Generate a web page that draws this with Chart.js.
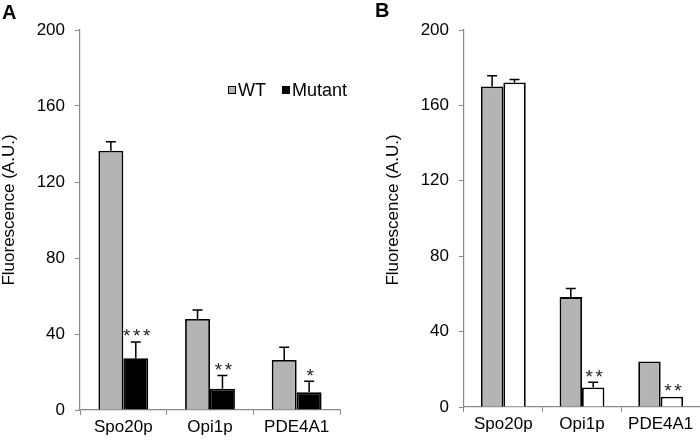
<!DOCTYPE html>
<html>
<head>
<meta charset="utf-8">
<script src="https://cdn.jsdelivr.net/npm/chart.js@4"></script>
<style>
  body { margin: 0; background: #fff; }
  .panel { position: absolute; top: 0; width: 350px; height: 442px; }
</style>
</head>
<body>
<div class="panel" style="left:0"><canvas id="chartA" width="350" height="442"></canvas></div>
<div class="panel" style="left:350px"><canvas id="chartB" width="350" height="442"></canvas></div>
<script>
// Values
const categories = ['Spo20p', 'Opi1p', 'PDE4A1'];
const yTicks = [0, 40, 80, 120, 160, 200];

const wtValues = [136.5, 47.9, 26.3];
const wtErrors = [4.7, 4.7, 6.7];
const mutantValues = [27.2, 11.2, 9.3];
const mutantErrors = [8.6, 6.9, 5.8];
const mutantStars = ['***', '**', '*'];

const dopcValues = [170, 58.3, 24.2];
const dopcErrors = [5.7, 4.6, 0];
const popcValues = [172.2, 10.4, 5.5];
const popcErrors = [1.6, 2.7, 0];
const popcStars = ['', '**', '**'];

const FONT = "'Liberation Sans', Arial, sans-serif";
const GREY = '#b4b4b4';
const AXIS = '#8a8a8a';

// error bars (upper half only) and significance stars
const errorBars = {
    id: 'errorBars',
    afterDatasetsDraw(chart) {
        const ctx = chart.ctx;
        const y = chart.scales.y;
        ctx.save();
        chart.data.datasets.forEach((ds, i) => {
            const meta = chart.getDatasetMeta(i);
            meta.data.forEach((bar, j) => {
                const err = ds.errors[j];
                const top = y.getPixelForValue(ds.data[j] + err);
                if (err > 0) {
                    ctx.strokeStyle = '#000';
                    ctx.lineWidth = 1.5;
                    ctx.beginPath();
                    ctx.moveTo(bar.x, bar.y);
                    ctx.lineTo(bar.x, top);
                    ctx.moveTo(bar.x - 5, top);
                    ctx.lineTo(bar.x + 5, top);
                    ctx.stroke();
                }
                const star = ds.stars ? ds.stars[j] : '';
                if (star) {
                    ctx.fillStyle = '#222';
                    ctx.font = '19px ' + FONT;
                    ctx.textAlign = 'center';
                    ctx.textBaseline = 'alphabetic';
                    const m = ctx.measureText('*');
                    const mid = (m.actualBoundingBoxAscent - m.actualBoundingBoxDescent) / 2;
                    const n = star.length;
                    for (let k = 0; k < n; k++) {
                        const sx = bar.x + 1 + (k - (n - 1) / 2) * 10;
                        ctx.fillText('*', sx, top - 9 + mid);
                    }
                }
            });
        });
        ctx.restore();
    }
};

// axis title, panel letter and legend
const decorations = {
    id: 'decorations',
    afterDraw(chart, args, opts) {
        const ctx = chart.ctx;
        ctx.save();
        ctx.fillStyle = '#000';
        ctx.font = 'bold 20px ' + FONT;
        ctx.textAlign = 'left';
        ctx.textBaseline = 'alphabetic';
        ctx.fillText(opts.letter, opts.letterX, opts.letterY);

        ctx.save();
        ctx.translate(opts.titleX, 210);
        ctx.rotate(-Math.PI / 2);
        ctx.font = '17px ' + FONT;
        ctx.textAlign = 'center';
        ctx.textBaseline = 'middle';
        ctx.fillText('Fluorescence (A.U.)', 0, 0);
        ctx.restore();

        ctx.font = '18px ' + FONT;
        ctx.textBaseline = 'middle';
        ctx.lineWidth = 1;
        let lx = opts.legendX, ly = opts.legendY;
        chart.data.datasets.forEach(ds => {
            ctx.fillStyle = ds.backgroundColor;
            ctx.fillRect(lx, ly - 4, 8, 8);
            ctx.strokeStyle = '#000';
            ctx.strokeRect(lx + 0.5, ly - 3.5, 7, 7);
            ctx.fillStyle = '#000';
            ctx.fillText(ds.label, lx + 10, ly + 1);
            if (opts.vertical) {
                ly += opts.step;
            } else {
                lx += 10 + ctx.measureText(ds.label).width + opts.step;
            }
        });
        ctx.restore();
    }
};

function makeChart(id, sets, area, deco) {
    const ctx = document.getElementById(id).getContext('2d');
    new Chart(ctx, {
        type: 'bar',
        data: {
            labels: categories,
            datasets: sets.map(s => ({
                label: s.label,
                data: s.values,
                errors: s.errors,
                stars: s.stars,
                backgroundColor: s.color,
                borderColor: '#000',
                borderWidth: 1.8,
                categoryPercentage: area.catPct,
                barPercentage: 1
            }))
        },
        options: {
            responsive: false,
            animation: false,
            devicePixelRatio: 1,
            layout: {
                padding: { top: area.top, right: 350 - area.right, bottom: 0, left: 0 }
            },
            plugins: {
                legend: { display: false },
                tooltip: { enabled: false },
                decorations: deco
            },
            scales: {
                x: {
                    grid: { offset: true, drawOnChartArea: false, tickLength: 5, color: AXIS },
                    border: { color: AXIS, width: 1.2 },
                    ticks: { color: '#000', padding: 2, font: { family: FONT, size: 17 } },
                    afterFit(scale) { scale.height = 442 - area.bottom; }
                },
                y: {
                    min: yTicks[0],
                    max: yTicks[yTicks.length - 1],
                    afterBuildTicks(scale) { scale.ticks = yTicks.map(v => ({ value: v })); },
                    grid: { drawOnChartArea: false, tickLength: 5, color: AXIS },
                    border: { color: AXIS, width: 1.2 },
                    ticks: { color: '#000', padding: 10, font: { family: FONT, size: 17 } },
                    afterFit(scale) { scale.width = area.left; }
                }
            }
        },
        plugins: [errorBars, decorations]
    });
}

makeChart('chartA', [
    { label: 'WT', values: wtValues, errors: wtErrors, color: GREY },
    { label: 'Mutant', values: mutantValues, errors: mutantErrors, stars: mutantStars, color: '#000' }
], { left: 80, right: 340, top: 30, bottom: 410, catPct: 0.575 },
   { letter: 'A', letterX: 2, letterY: 19, titleX: 9, legendX: 228, legendY: 90, step: 16, vertical: false });

makeChart('chartB', [
    { label: 'DOPC', values: dopcValues, errors: dopcErrors, color: GREY },
    { label: 'POPC', values: popcValues, errors: popcErrors, stars: popcStars, color: '#fff' }
], { left: 114, right: 350, top: 30, bottom: 407, catPct: 0.57 },
   { letter: 'B', letterX: 25, letterY: 17, titleX: 43, legendX: 567, legendY: 78, step: 33, vertical: true });
</script>
</body>
</html>
